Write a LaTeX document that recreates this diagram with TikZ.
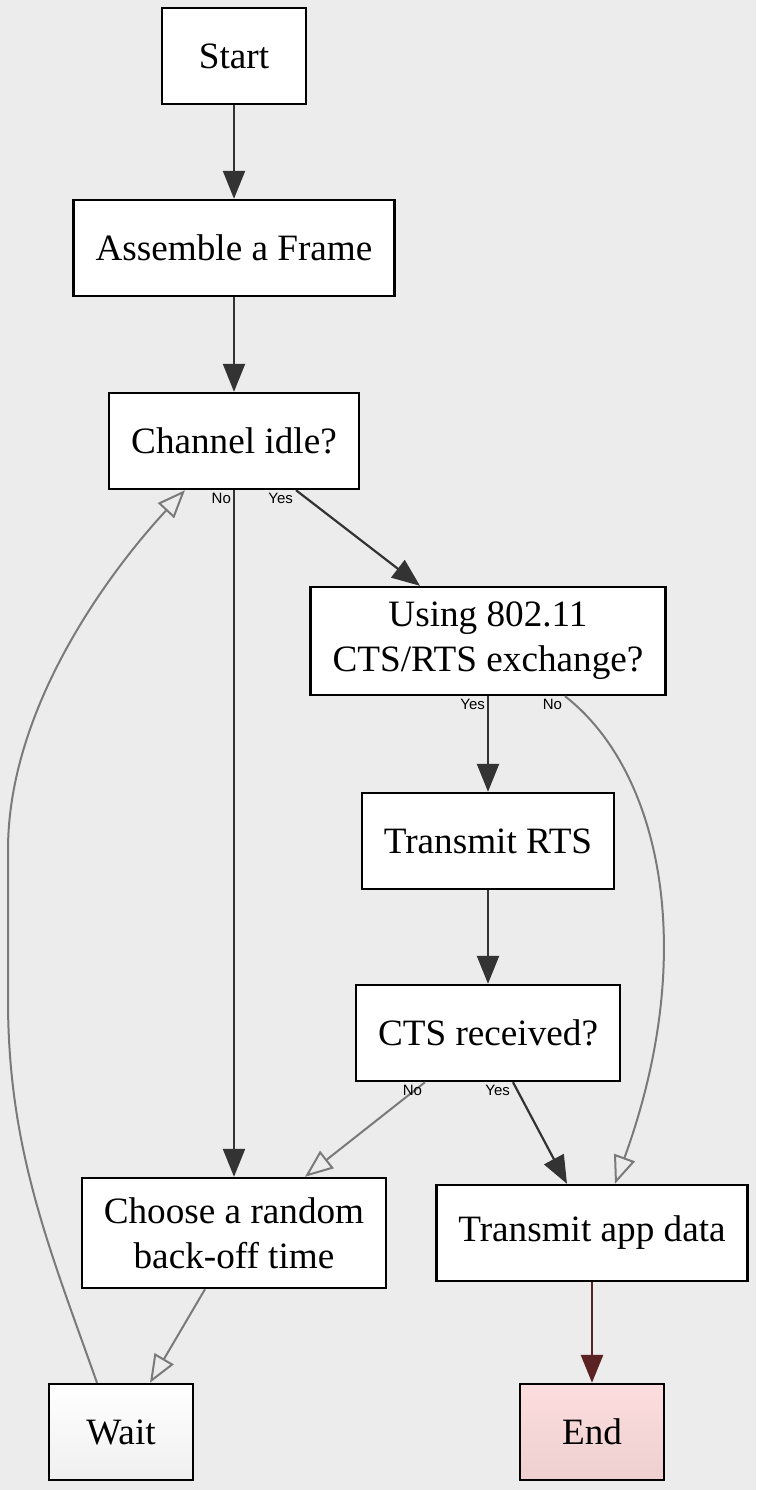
\documentclass[tikz,border=0pt]{standalone}
\usepackage{fontspec}
\setmainfont{Liberation Serif}
\newfontfamily\labelfont{Liberation Sans}
\usetikzlibrary{arrows.meta,positioning}
\definecolor{bggray}{RGB}{236,236,236}
\definecolor{linedark}{RGB}{51,51,51}
\definecolor{linegray}{RGB}{122,122,122}
\definecolor{endred}{RGB}{90,34,34}
\definecolor{lightpink}{RGB}{253,221,221}

\begin{document}
\begin{tikzpicture}[
  x=0.5pt,y=-0.5pt,
  block/.style={rectangle,draw=black,line width=1.2pt,fill=white,align=center,
                minimum width=72pt,minimum height=48pt,inner xsep=11pt,
                font=\fontsize{18.6}{22.5}\selectfont},
  arrow/.style={-{Triangle[length=14pt,width=11pt]},draw=linedark,line width=1.1pt},
  openarrow/.style={-{Triangle[open,length=14pt,width=11pt]},draw=linegray,line width=1pt},
  lbl/.style={font=\labelfont\fontsize{7.5}{9}\selectfont,inner sep=1pt,anchor=north east}
]
\fill[bggray] (0,0) rectangle (756,1490);
\useasboundingbox (0,0) rectangle (756,1490);

\node[block] (start) at (234,56) {Start};
\node[block] (frame) at (234,248) {Assemble a Frame};
\node[block] (idle) at (234,441) {Channel idle?};
\node[block,minimum height=54pt] (ctsrts) at (488,641) {Using 802.11\\CTS/RTS exchange?};
\node[block] (rts) at (488,841) {Transmit RTS};
\node[block] (ctsrecv) at (488,1033) {CTS received?};
\node[block,minimum height=55pt] (backoff) at (234,1233) {Choose a random\\back-off time};
\node[block] (data) at (592,1233) {Transmit app data};
\node[block,top color=white,bottom color=black!6] (wait) at (121,1432) {Wait};
\node[block,top color=lightpink,bottom color=lightpink!94!black] (end) at (592,1432) {End};

\draw[arrow] (start) -- (frame);
\draw[arrow] (frame) -- (idle);
\draw[arrow] (idle.south) -- node[lbl,pos=0] {No} (backoff.north);
\draw[arrow] ([xshift=31pt]idle.south) -- node[lbl,pos=0] {Yes} ([xshift=-34pt]ctsrts.north);
\draw[arrow] (ctsrts.south) -- node[lbl,pos=0] {Yes} (rts.north);
\draw[openarrow] ([xshift=38.5pt]ctsrts.south)
  .. controls (660,770) and (700,950) .. node[lbl,pos=0] {No} ([xshift=11.5pt]data.north);
\draw[arrow] (rts) -- (ctsrecv);
\draw[openarrow] ([xshift=-31.5pt]ctsrecv.south) -- node[lbl,pos=0] {No} ([xshift=35.5pt]backoff.north);
\draw[arrow] ([xshift=12.5pt]ctsrecv.south) -- node[lbl,pos=0] {Yes} ([xshift=-12.5pt]data.north);
\draw[openarrow] ([xshift=-14.5pt]backoff.south) -- ([xshift=14.5pt]wait.north);
\draw[openarrow] ([xshift=-12pt]wait.north)
  .. controls (50,1250) and (8,1150) .. (8,1000) -- (8,850)
  .. controls (8,700) and (120,560) .. ([xshift=-24.5pt]idle.south);
\draw[arrow,draw=endred,fill=endred,line width=1.4pt] (data) -- (end);
\end{tikzpicture}
\end{document}
